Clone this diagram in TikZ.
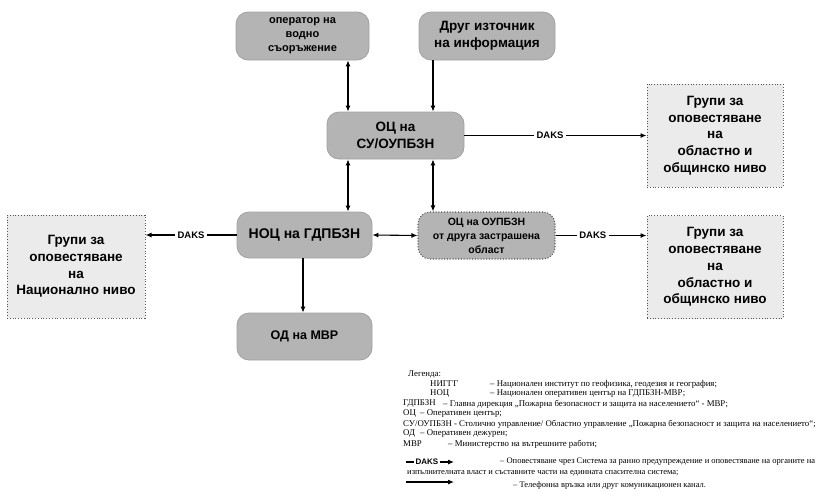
\documentclass[tikz,border=0pt]{standalone}
\usepackage{fontspec}
\setmainfont{Liberation Sans}
\newfontfamily\legfont{Liberation Serif}
\usetikzlibrary{arrows.meta}
\definecolor{boxgray}{HTML}{B4B4B4}
\definecolor{boxedge}{HTML}{A2A2A2}
\definecolor{lightfill}{HTML}{EBEBEB}
\definecolor{dotedge}{HTML}{555555}
\begin{document}
\begin{tikzpicture}[x=1pt,y=-1pt,
  rbox/.style={rounded corners=12pt, fill=boxgray, draw=boxedge, line width=0.8pt, align=center, inner sep=2pt},
  othbox/.style={rounded corners=12pt, fill=boxgray, draw=dotedge, line width=1.1pt, dash pattern=on 1pt off 1.8pt, align=center, inner sep=2pt},
  gbox/.style={fill=lightfill, draw=dotedge, line width=1pt, dash pattern=on 1pt off 1.8pt, align=center, font=\bfseries\fontsize{13.5}{16.7}\selectfont, minimum width=136pt, minimum height=103pt},
  conn/.style={line width=1.1pt, -{Latex[length=6pt,width=5pt]}},
  conn2/.style={line width=1.1pt, {Latex[length=6pt,width=5pt]}-{Latex[length=6pt,width=5pt]}},
  daks/.style={fill=white, font=\bfseries\fontsize{9.5}{10}\selectfont, inner sep=2.5pt},
  legdaks/.style={font=\bfseries\fontsize{8}{9}\selectfont, inner sep=1pt},
  leg/.style={anchor=west, inner sep=0pt, font=\legfont\fontsize{8.8}{10}\selectfont},
]
\useasboundingbox (0,0) rectangle (822,491);

% main boxes
\node[rbox, minimum width=133pt, minimum height=48pt, font=\bfseries\fontsize{11}{14}\selectfont] (op) at (302.5,36) {оператор на\\водно\\съоръжение};
\node[rbox, minimum width=136pt, minimum height=48pt, font=\bfseries\fontsize{13.5}{16.5}\selectfont] (dr) at (487,36) {Друг източник\\на информация};
\node[rbox, minimum width=137pt, minimum height=47pt, font=\bfseries\fontsize{13.5}{17}\selectfont] (oc) at (395.5,135.5) {ОЦ на\\СУ/ОУПБЗН};
\node[rbox, minimum width=135pt, minimum height=46pt, font=\bfseries\fontsize{14}{16}\selectfont] (noc) at (304.5,235) {НОЦ на ГДПБЗН};
\node[rbox, minimum width=135pt, minimum height=47pt, font=\bfseries\fontsize{12.5}{15}\selectfont] (od) at (304.5,336.5) {ОД на МВР};
\node[othbox, minimum width=137pt, minimum height=47pt, font=\bfseries\fontsize{10.5}{14}\selectfont] (oth) at (486.5,235.5) {ОЦ на ОУПБЗН\\от друга застрашена\\област};

\node[gbox] (g1) at (715,135.5) {Групи за\\оповестяване\\на\\областно и\\общинско ниво};
\node[gbox] (g2) at (715,267) {Групи за\\оповестяване\\на\\областно и\\общинско ниво};
\node[gbox, minimum width=138pt] (g0) at (76,266.5) {Групи за\\оповестяване\\на\\Национално ниво};

% connector columns
\coordinate (xa) at (348,0);
\coordinate (xb) at (433,0);
\coordinate (xc) at (303,0);

\draw[conn2] (op.south -| xa) -- (oc.north -| xa);
\draw[conn] (dr.south -| xb) -- (oc.north -| xb);
\draw[conn2] (oc.south -| xa) -- (noc.north -| xa);
\draw[conn2] (oc.south -| xb) -- (oth.north -| xb);
\draw[conn] (noc.south -| xc) -- (od.north -| xc);
\draw[conn2] (noc.east) -- (oth.west);
\draw[conn] (oc.east) -- node[daks, pos=0.47] (dk1) {DAKS} (g1.west);
\draw[conn] (oth.east) -- node[daks, pos=0.41] (dk2) {DAKS} (g2.west |- oth.east);
\draw[conn] (noc.west) -- node[daks] (dk0) {DAKS} (g0.east |- noc.west);

% legend
\node[leg] (l0) at (408,374) {Легенда:};
\node[leg] (l1a) at (430,384) {НИГГГ};
\node[leg] (l1b) at (490,384) {– Национален институт по геофизика, геодезия и география;};
\node[leg] (l2a) at (430,394) {НОЦ};
\node[leg] (l2b) at (490,394) {– Национален оперативен център на ГДПБЗН-МВР;};
\node[leg] (l3a) at (403,404) {ГДПБЗН};
\node[leg] (l3b) at (443,404) {– Главна дирекция „Пожарна безопасност и защита на населението“ - МВР;};
\node[leg] (l4a) at (403,414) {ОЦ};
\node[leg] (l4b) at (420,414) {– Оперативен център;};
\node[leg] (l5) at (403,424) {СУ/ОУПБЗН - Столично управление/ Областно управление „Пожарна безопасност и защита на населението“;};
\node[leg] (l6a) at (403,434) {ОД};
\node[leg] (l6b) at (420,434) {– Оперативен дежурен;};
\node[leg] (l7a) at (403,444) {МВР};
\node[leg] (l7b) at (448,444) {– Министерство на вътрешните работи;};

\coordinate (d0) at (406,462);
\coordinate (d1) at (454,462);
\node[legdaks] (dkl) at (427,462) {DAKS};
\draw[line width=1.1pt] (d0) -- (dkl.west);
\draw[conn] (dkl.east) -- (d1);
\node[leg, font=\legfont\fontsize{8.5}{10}\selectfont] (l8b) at (500,462) {– Оповестяване чрез Система за ранно предупреждение и оповестяване на органите на};
\node[leg, font=\legfont\fontsize{8.5}{10}\selectfont] (l8c) at (407,473) {изпълнителната власт и съставните части на единната спасителна система;};
\coordinate (t0) at (406,482);
\coordinate (t1) at (454,482);
\draw[conn] (t0) -- (t1);
\node[leg, font=\legfont\fontsize{8.5}{10}\selectfont] (l9b) at (513,485) {– Телефонна връзка или друг комуникационен канал.};
\end{tikzpicture}
\end{document}
